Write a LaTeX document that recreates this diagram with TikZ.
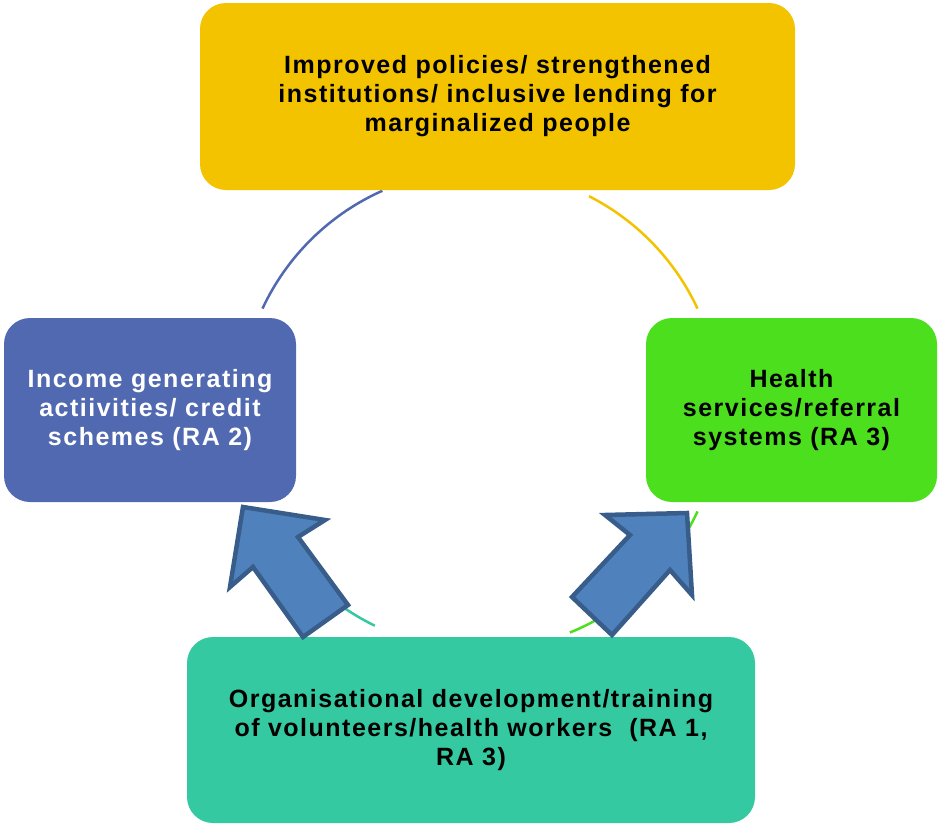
\documentclass[tikz,border=0pt]{standalone}
\usepackage{fontspec}
\setmainfont{Liberation Sans}[LetterSpace=6]
\definecolor{policyyellow}{HTML}{F3C300}
\definecolor{incomeblue}{HTML}{5169B1}
\definecolor{healthgreen}{HTML}{4CDF1E}
\definecolor{orgteal}{HTML}{35C9A1}
\definecolor{arrowfill}{HTML}{4F81BD}
\definecolor{arrowline}{HTML}{385D8A}

\begin{document}
\begin{tikzpicture}[x=1pt,y=-1pt]
      \tikzset{cyclebox/.style={rounded corners=26pt, align=center, inner sep=0pt,
          font=\fontsize{25}{29}\selectfont\bfseries},
        cyclearc/.style={line width=2.5pt},
        blockarrow/.style={fill=arrowfill, draw=arrowline, line width=4.5pt, line join=miter}}
      \useasboundingbox (0,0) rectangle (938,825);
      \coordinate (hub) at (480,410);

      % connecting arcs
      \draw[cyclearc, draw=incomeblue] (hub) ++(155:240pt) arc[start angle=155, end angle=114, radius=240pt];
      \draw[cyclearc, draw=policyyellow] (hub) ++(63:240pt) arc[start angle=63, end angle=25, radius=240pt];
      \draw[cyclearc, draw=healthgreen] (hub) ++(-25:240pt) arc[start angle=-25, end angle=-68, radius=240pt];
      \draw[cyclearc, draw=orgteal] (hub) ++(244:240pt) arc[start angle=244, end angle=205, radius=240pt];

      \node[cyclebox, fill=policyyellow, minimum width=595pt, minimum height=187pt] (policies) at (497.5,96.5)
          {Improved policies/ strengthened\\institutions/ inclusive lending for\\marginalized people};
      \node[cyclebox, fill=incomeblue, text=white, minimum width=292pt, minimum height=184pt] (income) at (150,410)
          {Income generating\\actiivities/ credit\\schemes (RA 2)};
      \node[cyclebox, fill=healthgreen, minimum width=291pt, minimum height=184pt] (health) at (791.5,410)
          {Health\\services/referral\\systems (RA 3)};
      \node[cyclebox, fill=orgteal, minimum width=568pt, minimum height=186pt] (orgdev) at (471,730)
          {Organisational development/training\\of volunteers/health workers\ \ (RA 1,\\RA 3)};

      % block arrows
      \draw[blockarrow] (243,507) -- (325,520) -- (298,537) -- (348,605) -- (303,637) -- (253,567) -- (230,587) -- cycle;
      \draw[blockarrow] (687,513) -- (692,595) -- (670,570) -- (612,635) -- (572,597) -- (630,535) -- (605,515) -- cycle;
\end{tikzpicture}
\end{document}
